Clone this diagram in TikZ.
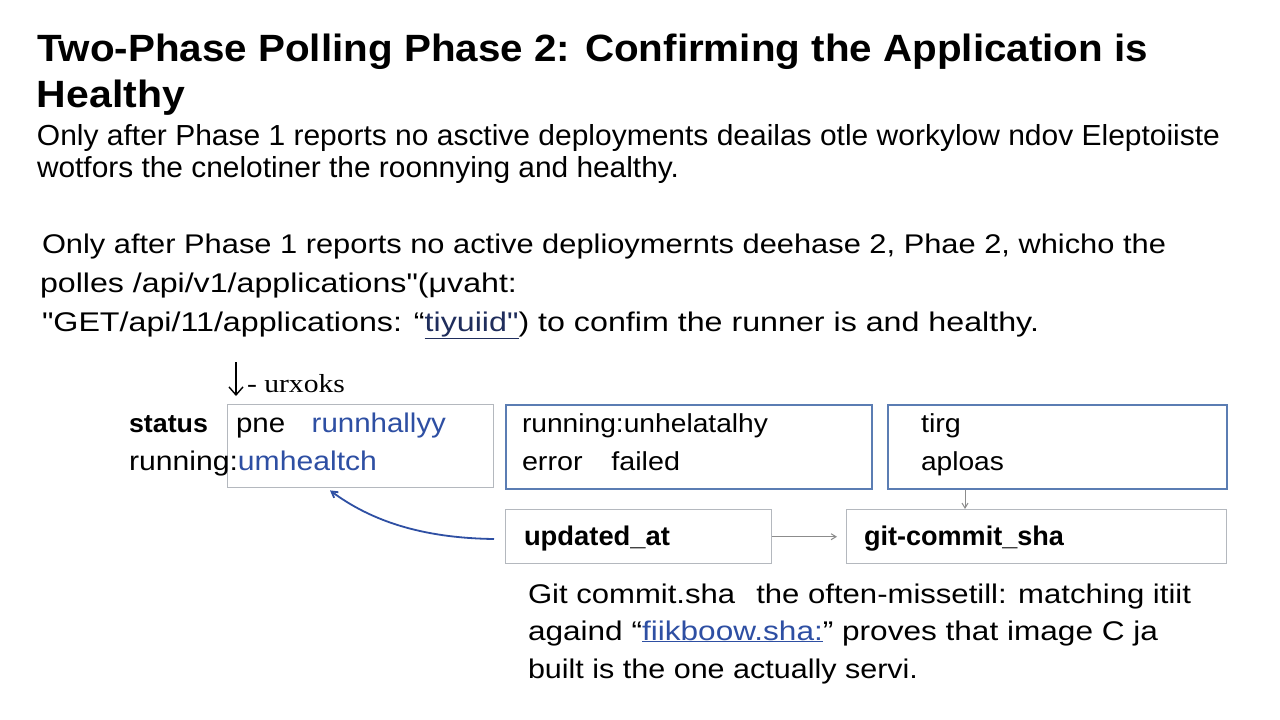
\documentclass[tikz,border=0pt]{standalone}
\usepackage{fontspec}
\usepackage{graphicx}
\setmainfont{Liberation Sans}
\newfontfamily\serifish{Liberation Serif}
\usetikzlibrary{arrows.meta}
\definecolor{boxgray}{HTML}{B4B8BE}
\definecolor{boxblue}{HTML}{5B7DB3}
\definecolor{txtblue}{HTML}{2E4FA3}
\definecolor{navy}{HTML}{1F2D5C}
\definecolor{arrgray}{HTML}{8C8C8C}
\newcommand{\fitto}[2]{\resizebox{#1pt}{\height}{#2}}
\newcommand{\fs}[1]{\fontsize{#1}{#1}\selectfont}
\newcommand{\dq}{\textquotedbl}
\tikzset{
  txt/.style={anchor=base west, inner sep=0pt, outer sep=0pt, text=black},
  graybox/.style={draw=boxgray, line width=1.4pt, anchor=north west, inner sep=0pt},
  bluebox/.style={draw=boxblue, line width=1.6pt, anchor=north west, inner sep=0pt},
  grayarrow/.style={draw=arrgray, line width=1pt, -{Straight Barb[length=5pt,width=6pt]}},
}
\begin{document}
\begin{tikzpicture}[x=1pt,y=-1pt]
\useasboundingbox (0,0) rectangle (1280,720);
\fill[white] (0,0) rectangle (1280,720);

% title
\node[txt] (t1) at (37,61) {\fs{38}\bfseries\fitto{1111}{Two-Phase Polling Phase 2: Confirming the Application is}};
\node[txt] (t2) at (37,107) {\fs{38}\bfseries\fitto{148}{Healthy}};

% paragraph 1
\node[txt] (p1a) at (37,145) {\fs{29}\fitto{1183}{Only after Phase 1 reports no asctive deployments deailas otle workylow ndov Eleptoiiste}};
\node[txt] (p1b) at (37,177) {\fs{29}\fitto{642}{wotfors the cnelotiner the roonnying and healthy.}};

% paragraph 2
\node[txt] (p2a) at (42,253) {\fs{27}\fitto{1124}{Only after Phase 1 reports no active deplioymernts deehase 2, Phae 2, whicho the}};
\node[txt] (p2b) at (40,292) {\fs{27}\fitto{477}{polles /api/v1/applications\dq(μvaht:}};
\node[txt] (p2c) at (42,331) {\fs{27}\fitto{997}{\dq GET/api/11/applications: “\textcolor{navy}{\underline{tiyuiid\dq}}) to confim the runner is and healthy.}};

% small arrow + label
\coordinate (a0) at (236,362);
\coordinate (a1) at (236,396);
\draw[line width=1.4pt, -{Straight Barb[length=8pt,width=14pt]}] (a0) -- (a1);
\node[txt] (lab) at (247,392) {\fs{26}\serifish\fitto{98}{- urxoks}};

% boxes
\node[graybox, minimum width=266pt, minimum height=83pt] (b1) at (227,404) {};
\node[bluebox, minimum width=366pt, minimum height=84pt] (b2) at (505,404) {};
\node[bluebox, minimum width=339pt, minimum height=84pt] (b3) at (887,404) {};
\node[graybox, minimum width=266pt, minimum height=54pt] (b4) at (505,509) {};
\node[graybox, minimum width=380pt, minimum height=54pt] (b5) at (846,509) {};

% box texts
\node[txt] (st) at (129,432) {\fs{26}\bfseries\fitto{79}{status}};
\node[txt] (rn) at (129,470) {\fs{27}\fitto{248}{running:\textcolor{txtblue}{umhealtch}}};
\node[txt] (pn) at (236,432) {\fs{27}\fitto{210}{pne\hspace{0.9em}\textcolor{txtblue}{runnhallyy}}};
\node[txt] (b2a) at (522,432) {\fs{26}\fitto{246}{running:unhelatalhy}};
\node[txt] (b2b) at (522,470) {\fs{26}\fitto{158}{error\hspace{1em}failed}};
\node[txt] (b3a) at (921,432) {\fs{26}\fitto{40}{tirg}};
\node[txt] (b3b) at (921,470) {\fs{26}\fitto{83}{aploas}};
\node[txt] (b4a) at (524,545) {\fs{27}\bfseries\fitto{146}{updated\_at}};
\node[txt] (b5a) at (864,545) {\fs{27}\bfseries\fitto{200}{git-commit\_sha}};

% connectors
\draw[grayarrow] (b4.east) -- ([xshift=-9pt]b5.west);
\draw[grayarrow] (b3.south -| 965,0) -- (b5.north -| 965,0);
\coordinate (c0) at (494,539);
\draw[draw=txtblue, line width=1.8pt, -{Straight Barb[length=6pt,width=7pt]}] (c0) .. controls (420,538) and (370,520) .. ([xshift=103pt,yshift=-2pt]b1.south west);

% bottom paragraph
\node[txt] (q1) at (528,603) {\fs{27}\fitto{663}{Git commit.sha\hspace{0.4em} the often-missetill: matching itiit}};
\node[txt] (q2) at (528,640) {\fs{27}\fitto{630}{againd “\textcolor{txtblue}{\underline{fiikboow.sha:}}” proves that image C ja}};
\node[txt] (q3) at (528,678) {\fs{27}\fitto{390}{built is the one actually servi.}};
\end{tikzpicture}
\end{document}
